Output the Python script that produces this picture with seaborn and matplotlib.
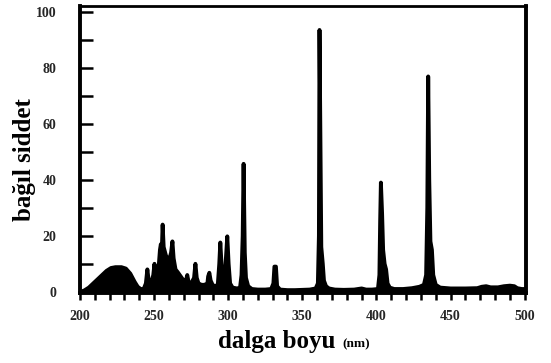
import matplotlib
matplotlib.use("Agg")
import matplotlib.pyplot as plt
import seaborn as sns
import pandas as pd

# Emission spectrum traced point by point (wavelength in nm, relative intensity)
wavelength = [
    202, 203, 206, 210, 214, 218, 221, 224, 228, 231, 234, 237, 239, 241, 243,
    244.5, 245.5, 246.5, 248, 249.5, 250.3, 251, 252, 253, 254, 254.6, 255.2,
    255.8, 256.5, 258, 260, 261.5, 262.4, 263.2, 264.5, 266, 268, 270, 271.5,
    272.4, 273.3, 275, 277, 277.9, 278.8, 280, 282, 284, 286, 286.5, 287.3,
    288.2, 289.5, 291, 293, 294, 294.7, 295.5, 296.5, 297.5, 298.5, 299.4,
    300.3, 301.3, 303, 306, 308, 309, 309.8, 310.4, 311.2, 312, 313.5, 316,
    320, 325, 329, 330.5, 331.2, 332.2, 333, 335, 340, 345, 350, 355, 359,
    360.5, 361.2, 361.6, 362.4, 362.8, 363.8, 364.6, 366, 368, 372, 378, 385,
    390, 393, 397, 401, 402, 402.5, 403, 403.8, 404.5, 405.5, 406.5, 407.5,
    409, 412, 418, 424, 429, 432, 433.5, 434.3, 434.9, 435.6, 436.4, 437.4,
    438.3, 440, 443, 450, 460, 468, 471, 474, 477, 482, 486, 490, 493, 495,
    498, 500,
]
intensity = [
    0.3, 0.5, 1.5, 3.5, 5.5, 7.5, 8.5, 8.8, 8.8, 8.3, 6.5, 3.5, 1.8, 1.0, 1.0,
    3.0, 8.0, 3.5, 3.0, 6.0, 10.0, 6.0, 6.0, 8.0, 15.0, 17.0, 14.0,
    24.0, 16.0, 13.0, 11.0, 14.0, 18.0, 12.0, 8.0, 7.0, 5.5, 4.0, 4.0,
    6.0, 3.5, 3.0, 5.0, 10.0, 5.0, 3.0, 2.5, 2.5, 3.0, 5.5, 6.8,
    4.0, 2.5, 2.0, 2.5, 10.0, 17.6, 10.0, 4.0, 3.5, 12.0, 19.8,
    10.0, 3.0, 1.5, 1.2, 1.5, 6.0, 20.0, 45.7, 14.0, 5.0, 2.0, 1.0,
    0.8, 0.8, 1.0, 3.0, 9.0, 9.0, 2.0, 0.8, 0.6, 0.6, 0.7, 0.8, 1.2,
    3.0, 20.0, 93.5, 40.0, 16.0, 10.0, 4.0, 2.0, 1.2, 0.8, 0.7, 0.8,
    1.2, 0.8, 0.8, 1.0, 6.0, 25.0, 39.0, 28.0, 15.0, 10.0, 8.0, 3.0,
    1.5, 1.0, 1.0, 1.3, 1.8, 2.5, 6.0, 30.0, 76.9, 40.0, 18.0, 15.0,
    6.0, 2.5, 1.5, 1.2, 1.2, 1.3, 1.8, 2.0, 1.6, 1.6, 2.0, 2.2, 2.0, 1.3,
    1.0, 1.0,
]

x_major = [200, 250, 300, 350, 400, 450, 500]
y_major = [0, 20, 40, 60, 80, 100]
x_label = "dalga boyu"
x_unit = "(nm)"
y_label = "bağıl siddet"

spectrum = pd.DataFrame({"wavelength": wavelength, "intensity": intensity})

sns.set_theme(style="white")
plt.rcParams["font.family"] = ["Liberation Serif", "DejaVu Serif"]
plt.rcParams["font.weight"] = "bold"

fig = plt.figure(figsize=(5.51, 3.63), dpi=100)
ax = fig.add_axes([0.145, 0.193, 0.81, 0.790])

ax.fill_between(spectrum["wavelength"], 0, spectrum["intensity"],
                color="black", linewidth=0)
sns.lineplot(data=spectrum, x="wavelength", y="intensity", ax=ax,
             color="black", linewidth=2.8, sort=False)

ax.set_xlim(200, 501)
ax.set_ylim(-0.4, 102)

ax.set_xticks(x_major)
ax.set_xticks(list(range(210, 500, 10)), minor=True)
ax.set_yticks(y_major)
ax.set_yticks(list(range(10, 100, 20)), minor=True)

ax.tick_params(axis="x", which="both", direction="out", length=5, width=1.8,
               color="black", pad=7, labelsize=10, bottom=True)
ax.tick_params(axis="y", which="both", direction="in", length=9, width=1.8,
               color="black", pad=17, labelsize=10, left=True)
for lab in ax.get_xticklabels() + ax.get_yticklabels():
    lab.set_fontweight("bold")

for side, lw in (("left", 2.8), ("bottom", 2.8), ("right", 2.8), ("top", 2.0)):
    ax.spines[side].set_visible(True)
    ax.spines[side].set_color("black")
    ax.spines[side].set_linewidth(lw)

ax.set_xlabel("")
ax.set_ylabel("")

fig.text(0.503, 0.028, x_label, ha="center", va="bottom", fontsize=18,
         fontweight="bold", color="black")
fig.text(0.647, 0.036, x_unit, ha="center", va="bottom", fontsize=9.5,
         fontweight="bold", color="black")
fig.text(0.044, 0.56, y_label, ha="center", va="center", rotation=90,
         fontsize=18, fontweight="bold", color="black")

fig.savefig("out.png", dpi=100)
